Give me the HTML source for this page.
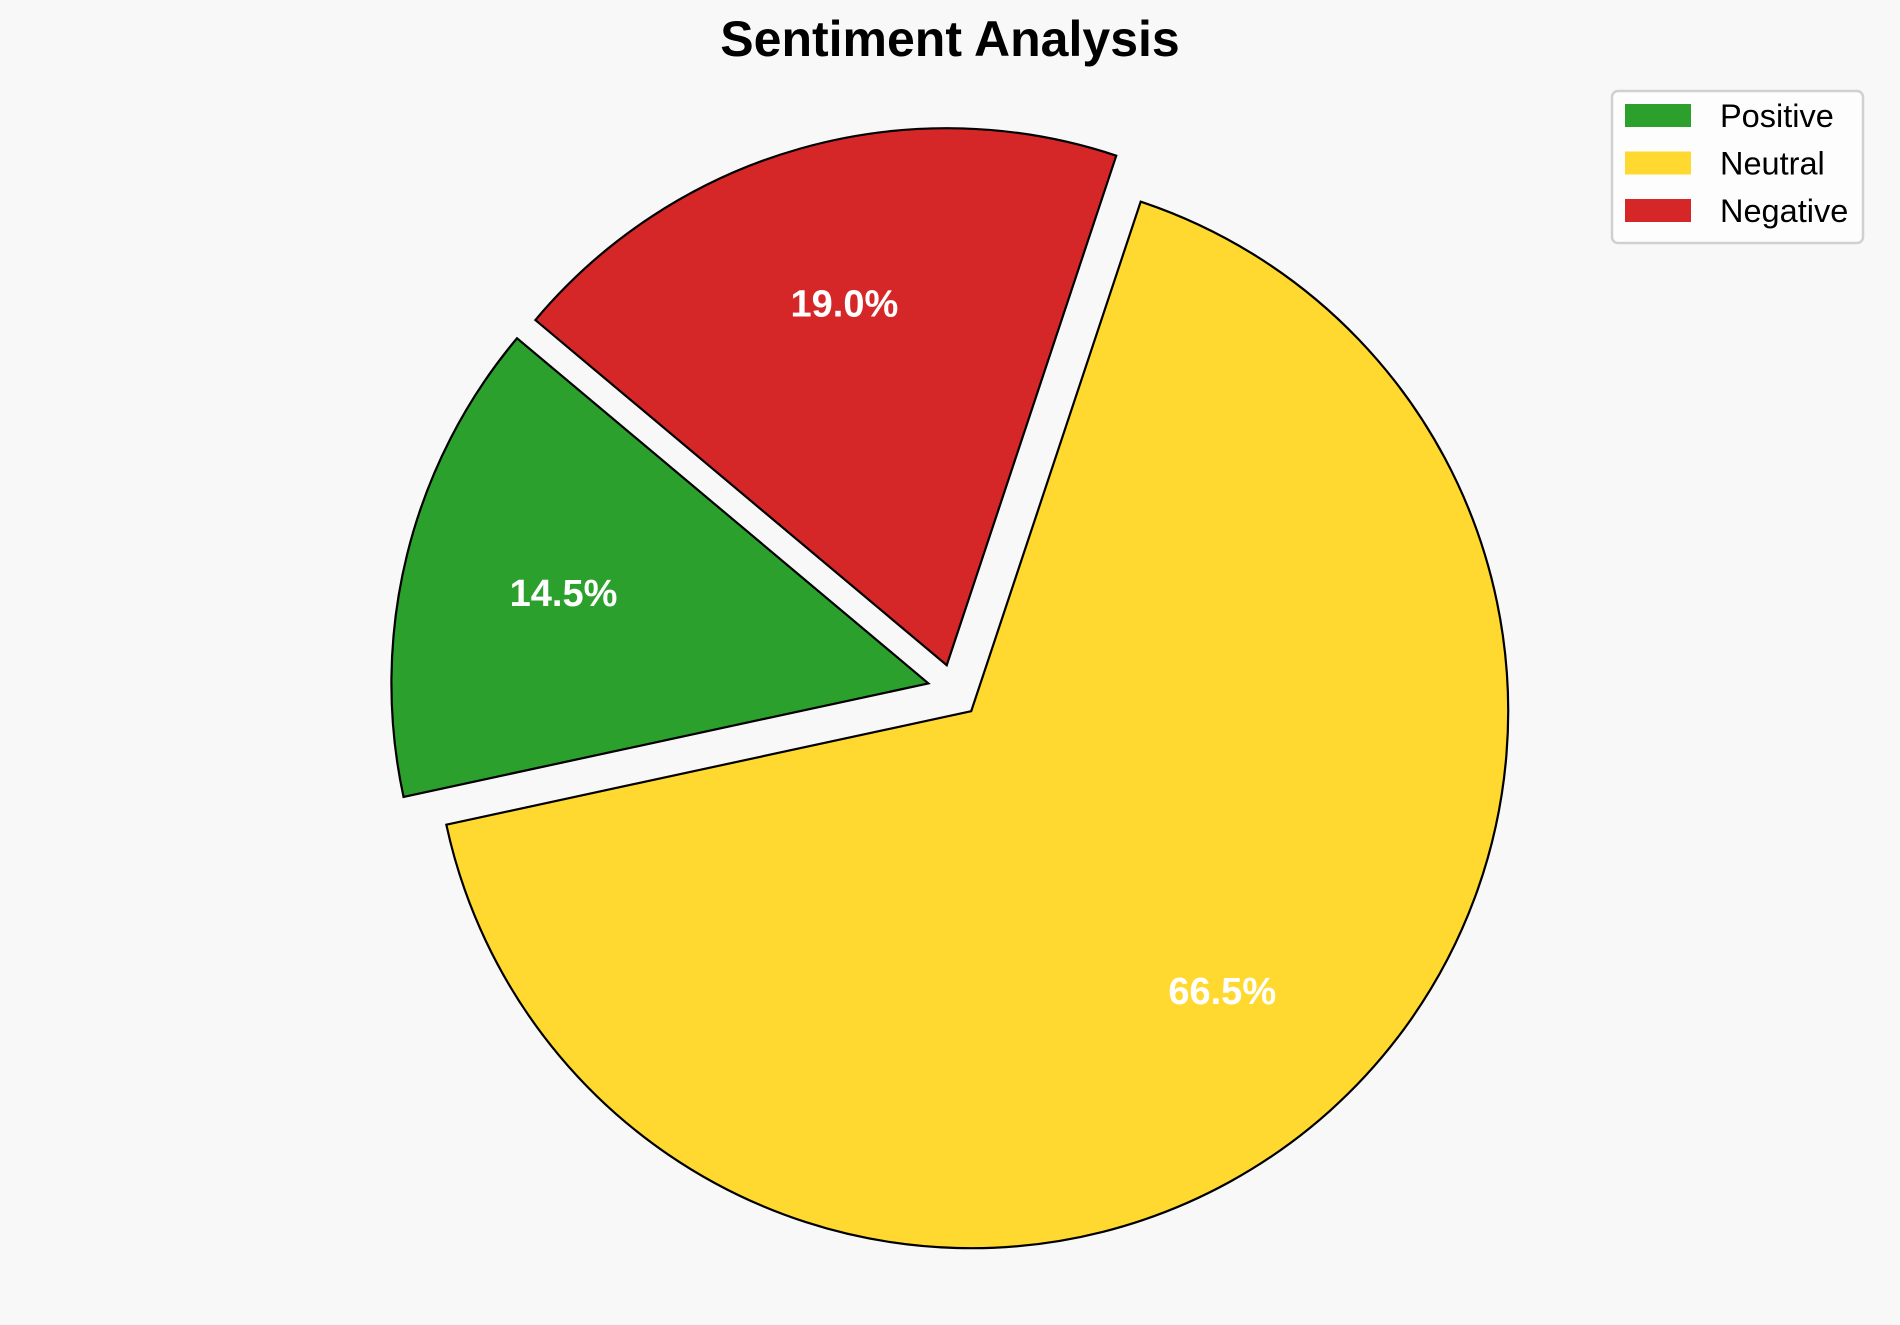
<!DOCTYPE html>
<html><head><meta charset="utf-8"><style>
html,body{margin:0;padding:0;background:#f8f8f8;}
svg{display:block;font-family:"Liberation Sans",Arial,sans-serif;}
</style></head><body>
<svg id="chart" width="1900" height="1325" viewBox="0 0 1900 1325">
<rect width="1900" height="1325" fill="#f8f8f8"/>
<text x="950" y="56" text-anchor="middle" font-size="50" font-weight="bold" fill="#000">Sentiment Analysis</text>
<g id="slices"></g>
<g id="labels"></g>
<g>
<rect x="1612" y="91" width="251" height="152" rx="6" fill="#fdfdfd" stroke="#d0d0d0" stroke-width="2.5"/>
<g id="legend-items"></g>
</g>
</svg>
<script>
const categories = ["Positive", "Neutral", "Negative"];
const values = [14.5, 66.5, 19.0];
const explode = [0.095, 0, 0.097];
const explodeAngle = [147, 0, 118];
const colors = ["#2ca02c", "#ffd92f", "#d62728"];
const startAngle = 140;
const cx = 971.2, cy = 711.2, R = 537;
const NS = "http://www.w3.org/2000/svg";
const total = values.reduce((a, b) => a + b, 0);
const gS = document.getElementById('slices');
const gL = document.getElementById('labels');
const gLeg = document.getElementById('legend-items');
let a = startAngle;
function pt(x, y, r, deg) { const t = deg * Math.PI / 180; return [x + r * Math.cos(t), y - r * Math.sin(t)]; }
values.forEach((v, i) => {
  const sweep = v / total * 360;
  const mid = a + sweep / 2;
  const [ox, oy] = pt(cx, cy, explode[i] * R, explodeAngle[i]);
  const [x1, y1] = pt(ox, oy, R, a);
  const [x2, y2] = pt(ox, oy, R, a + sweep);
  const large = sweep > 180 ? 1 : 0;
  const p = document.createElementNS(NS, 'path');
  p.setAttribute('d', `M${ox},${oy} L${x1},${y1} A${R},${R} 0 ${large} 0 ${x2},${y2} Z`);
  p.setAttribute('fill', colors[i]);
  p.setAttribute('stroke', '#000');
  p.setAttribute('stroke-width', '2.2');
  p.setAttribute('stroke-linejoin', 'miter');
  
  
  gS.appendChild(p);
  const [lx, ly] = pt(ox, oy, R * 0.7, mid);
  const t = document.createElementNS(NS, 'text');
  t.setAttribute('x', lx);
  t.setAttribute('y', ly + 13);
  t.setAttribute('text-anchor', 'middle');
  t.setAttribute('font-size', '38');
  t.setAttribute('font-weight', 'bold');
  t.setAttribute('fill', '#fff');
  
  
  t.textContent = (v / total * 100).toFixed(1) + '%';
  gL.appendChild(t);
  const r = document.createElementNS(NS, 'rect');
  r.setAttribute('x', 1625);
  r.setAttribute('y', 104 + i * 47.5);
  r.setAttribute('width', 66);
  r.setAttribute('height', 23);
  r.setAttribute('fill', colors[i]);
  
  
  gLeg.appendChild(r);
  const lt = document.createElementNS(NS, 'text');
  lt.setAttribute('x', 1720);
  lt.setAttribute('y', 127 + i * 47.5);
  lt.setAttribute('font-size', '32.5');
  lt.setAttribute('fill', '#000');
  
  
  lt.textContent = categories[i];
  gLeg.appendChild(lt);
  a += sweep;
});
</script>
</body></html>
